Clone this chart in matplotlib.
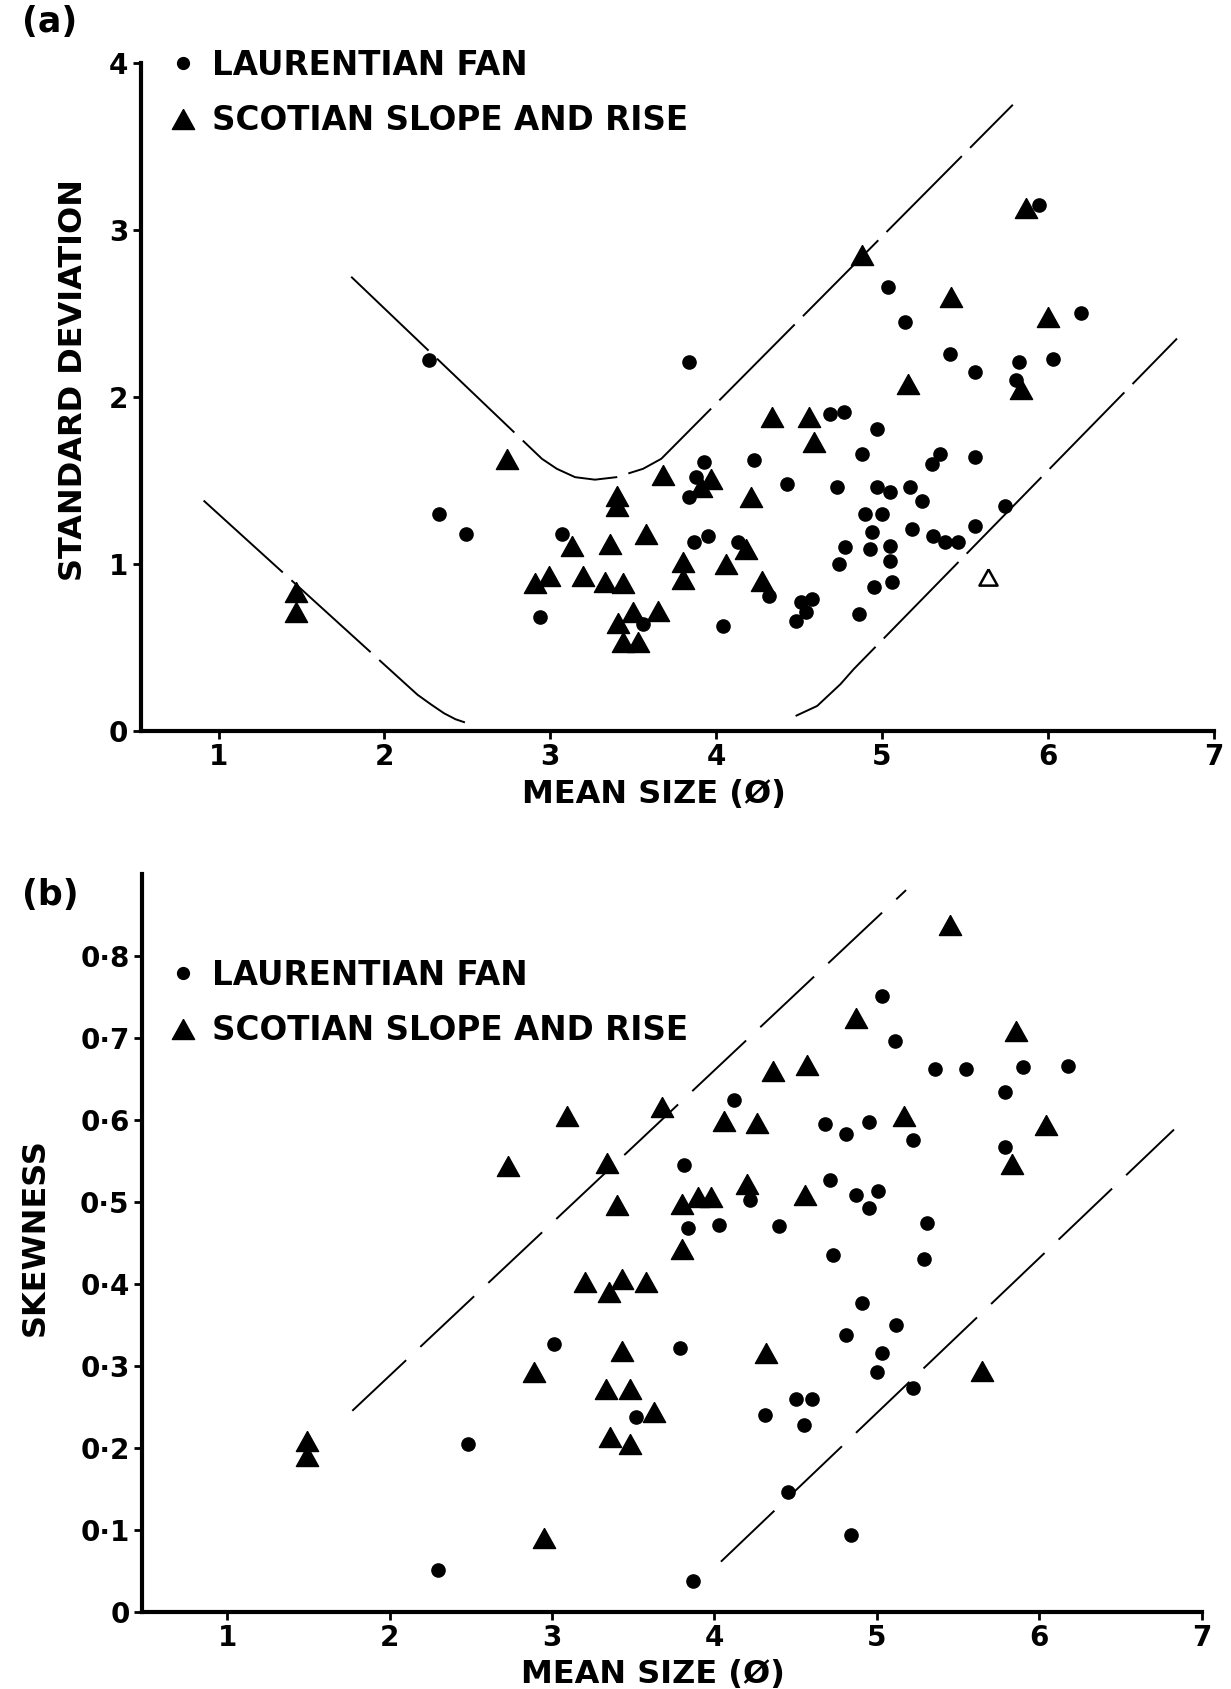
import numpy as np
import matplotlib
matplotlib.use("Agg")
import matplotlib.pyplot as plt
from matplotlib.lines import Line2D

# ==============================
# DATA
# ==============================
# (a) mean size vs standard deviation
a_lf_x = [2.27, 2.33, 2.49, 2.94, 3.07, 3.56, 3.84, 3.93, 3.88, 3.84, 3.87, 3.95,
          4.04, 4.13, 4.23, 4.32, 4.43, 4.48, 4.51, 4.54, 4.58, 4.69, 4.77, 4.73,
          4.74, 4.78, 4.86, 4.88, 4.90, 4.93, 4.94, 4.95, 4.97, 4.97, 5.00, 5.04,
          5.05, 5.05, 5.05, 5.06, 5.14, 5.17, 5.18, 5.24, 5.31, 5.30, 5.35, 5.38,
          5.41, 5.46, 5.56, 5.56, 5.56, 5.74, 5.81, 5.83, 5.95, 6.03, 6.20]
a_lf_y = [2.22, 1.30, 1.18, 0.68, 1.18, 0.64, 2.21, 1.61, 1.52, 1.40, 1.13, 1.17,
          0.63, 1.13, 1.62, 0.81, 1.48, 0.66, 0.77, 0.71, 0.79, 1.90, 1.91, 1.46,
          1.00, 1.10, 0.70, 1.66, 1.30, 1.09, 1.19, 0.86, 1.81, 1.46, 1.30, 2.66,
          1.43, 1.11, 1.02, 0.89, 2.45, 1.46, 1.21, 1.38, 1.17, 1.60, 1.66, 1.13,
          2.26, 1.13, 1.64, 2.15, 1.23, 1.35, 2.10, 2.21, 3.15, 2.23, 2.50]

a_ss_x = [1.47, 1.47, 2.74, 2.91, 2.99, 3.13, 3.20, 3.33, 3.44, 3.36, 3.40, 3.40,
          3.58, 3.68, 3.41, 3.50, 3.65, 3.44, 3.53, 3.80, 3.80, 3.97, 3.91, 4.06,
          4.18, 4.21, 4.28, 4.34, 4.56, 4.59, 4.88, 5.16, 5.42, 5.84, 5.87, 6.00]
a_ss_y = [0.83, 0.71, 1.63, 0.885, 0.93, 1.11, 0.93, 0.895, 0.885, 1.12, 1.41, 1.35,
          1.18, 1.53, 0.645, 0.71, 0.72, 0.535, 0.535, 1.01, 0.91, 1.51, 1.46, 1.00,
          1.09, 1.40, 0.90, 1.88, 1.88, 1.73, 2.85, 2.08, 2.60, 2.05, 3.13, 2.48]

a_open_x = [5.64]
a_open_y = [0.92]

# (a) hand-drawn envelopes
a_upper_env_x = [1.80, 2.95, 3.04, 3.15, 3.27, 3.40, 3.56, 3.67, 5.79]
a_upper_env_y = [2.72, 1.63, 1.57, 1.52, 1.505, 1.52, 1.57, 1.63, 3.75]
a_lower_left_x = [0.91, 2.13, 2.20, 2.28, 2.36, 2.43, 2.49]
a_lower_left_y = [1.38, 0.28, 0.217, 0.16, 0.106, 0.07, 0.05]
a_lower_right_x = [4.48, 4.61, 4.75, 4.83, 6.78]
a_lower_right_y = [0.09, 0.15, 0.28, 0.37, 2.35]

# (b) mean size vs skewness
b_lf_x = [2.30, 2.48, 3.01, 3.52, 3.79, 3.81, 3.84, 3.87, 4.03, 4.12, 4.22, 4.31,
          4.40, 4.45, 4.50, 4.55, 4.60, 4.68, 4.71, 4.73, 4.81, 4.81, 4.84, 4.87,
          4.91, 4.95, 4.95, 5.00, 5.01, 5.03, 5.03, 5.11, 5.12, 5.22, 5.22, 5.29,
          5.31, 5.36, 5.55, 5.79, 5.79, 5.90, 6.18]
b_lf_y = [0.051, 0.204, 0.327, 0.237, 0.321, 0.545, 0.468, 0.037, 0.472, 0.624, 0.502, 0.240,
          0.470, 0.146, 0.259, 0.228, 0.260, 0.595, 0.526, 0.435, 0.582, 0.337, 0.093, 0.508,
          0.376, 0.597, 0.492, 0.292, 0.513, 0.751, 0.315, 0.696, 0.350, 0.575, 0.273, 0.430,
          0.474, 0.662, 0.662, 0.634, 0.567, 0.664, 0.665]

b_ss_x = [1.49, 1.49, 2.73, 2.89, 2.95, 3.09, 3.20, 3.35, 3.43, 3.58, 3.34, 3.40,
          3.43, 3.33, 3.48, 3.63, 3.36, 3.48, 3.68, 3.80, 3.80, 3.90, 3.98, 4.06,
          4.20, 4.26, 4.32, 4.36, 4.56, 4.57, 4.87, 5.17, 5.45, 5.65, 5.83, 5.86, 6.04]
b_ss_y = [0.208, 0.190, 0.543, 0.292, 0.090, 0.604, 0.402, 0.390, 0.406, 0.402, 0.547, 0.496,
          0.318, 0.272, 0.271, 0.243, 0.213, 0.204, 0.616, 0.497, 0.442, 0.506, 0.506, 0.598,
          0.522, 0.596, 0.316, 0.659, 0.508, 0.667, 0.724, 0.605, 0.838, 0.294, 0.546, 0.708, 0.594]

# (b) envelope lines
b_upper_env_x = [1.77, 5.18]
b_upper_env_y = [0.245, 0.88]
b_lower_env_x = [4.04, 6.83]
b_lower_env_y = [0.061, 0.588]

x_ticks = [1, 2, 3, 4, 5, 6, 7]
a_y_ticks = [0, 1, 2, 3, 4]
b_y_ticks = [0, 0.1, 0.2, 0.3, 0.4, 0.5, 0.6, 0.7, 0.8]
b_y_labels = ["0", "0·1", "0·2", "0·3", "0·4", "0·5", "0·6", "0·7", "0·8"]

legend_labels = ["LAURENTIAN FAN", "SCOTIAN SLOPE AND RISE"]

# ==============================
# STYLE
# ==============================
plt.rcParams['font.family'] = ['DejaVu Sans']
plt.rcParams['font.weight'] = 'bold'

TRI = [(0, 0.9), (-1, -0.9), (1, -0.9), (0, 0.9)]
DOT_MS = 9.5
TRI_MS = 16
SPINE_W = 3.0
LEG_FS = 23.5

fig = plt.figure(figsize=(12.31, 16.89), dpi=100)
W, H = 1231.0, 1689.0

# axes boxes in pixels: left, right, bottom(y=0 row), top
ax_a = fig.add_axes([140.6 / W, 1 - 731 / H, (1213.5 - 140.6) / W, (731 - 63) / H])
ax_b = fig.add_axes([142 / W, 1 - 1611.7 / H, (1201.6 - 142) / W, (1611.7 - 873.7) / H])


def style_axes(ax):
    for s in ["top", "right"]:
        ax.spines[s].set_visible(False)
    for s in ["left", "bottom"]:
        ax.spines[s].set_linewidth(SPINE_W)
    ax.tick_params(direction="out", length=6, width=2, labelsize=20, pad=3)
    ax.set_xticks(x_ticks)
    ax.set_xticklabels([str(t) for t in x_ticks])
    for lab in ax.get_xticklabels() + ax.get_yticklabels():
        lab.set_fontweight("bold")


def add_legend(ax, anchor):
    handles = [
        Line2D([], [], ls="none", marker="o", ms=DOT_MS - 1, color="black"),
        Line2D([], [], ls="none", marker=TRI, ms=TRI_MS, color="black"),
    ]
    ax.legend(handles, legend_labels, loc="upper left", bbox_to_anchor=anchor,
              frameon=False, handlelength=1.0, handletextpad=0.39,
              labelspacing=0.7, borderpad=0, borderaxespad=0,
              prop={"weight": "bold", "size": LEG_FS})


# ---------- (a) ----------
dash_a = (0, (55, 6))
ax_a.plot(a_upper_env_x, a_upper_env_y, color="black", lw=1.4, ls=dash_a)
ax_a.plot(a_lower_left_x, a_lower_left_y, color="black", lw=1.4, ls=dash_a)
ax_a.plot(a_lower_right_x, a_lower_right_y, color="black", lw=1.4, ls=dash_a)

ax_a.plot(a_lf_x, a_lf_y, ls="none", marker="o", ms=DOT_MS, color="black")
ax_a.plot(a_ss_x, a_ss_y, ls="none", marker=TRI, ms=TRI_MS, color="black")
ax_a.plot(a_open_x, a_open_y, ls="none", marker=TRI, ms=TRI_MS - 3,
          markerfacecolor="white", markeredgecolor="black", markeredgewidth=1.8)

ax_a.set_xlim(0.53, 7.0)
ax_a.set_ylim(0, 4.0)
style_axes(ax_a)
ax_a.set_yticks(a_y_ticks)
ax_a.set_yticklabels([str(t) for t in a_y_ticks], fontweight="bold")
ax_a.set_xlabel("MEAN SIZE (Ø)", fontsize=23, fontweight="bold")
ax_a.set_ylabel("STANDARD DEVIATION", fontsize=23, fontweight="bold")
ax_a.xaxis.set_label_coords(0.478, -0.072)
ax_a.yaxis.set_label_coords(-0.048, 0.526)
add_legend(ax_a, (0.0244, 1.0216))
fig.text(22 / W, 1 - 5 / H, "(a)", fontsize=25, fontweight="bold", ha="left", va="top")

# ---------- (b) ----------
dash_b = (0, (38, 10))
ax_b.plot(b_upper_env_x, b_upper_env_y, color="black", lw=1.4, ls=dash_b)
ax_b.plot(b_lower_env_x, b_lower_env_y, color="black", lw=1.4, ls=dash_b)

ax_b.plot(b_lf_x, b_lf_y, ls="none", marker="o", ms=DOT_MS, color="black")
ax_b.plot(b_ss_x, b_ss_y, ls="none", marker=TRI, ms=TRI_MS, color="black")

ax_b.set_xlim(0.475, 7.0)
ax_b.set_ylim(0, 0.9)
style_axes(ax_b)
ax_b.set_yticks(b_y_ticks)
ax_b.set_yticklabels(b_y_labels, fontweight="bold")
ax_b.set_xlabel("MEAN SIZE (Ø)", fontsize=23, fontweight="bold")
ax_b.set_ylabel("SKEWNESS", fontsize=23, fontweight="bold")
ax_b.xaxis.set_label_coords(0.482, -0.064)
ax_b.yaxis.set_label_coords(-0.086, 0.507)
add_legend(ax_b, (0.0234, 0.885))
fig.text(22 / W, 1 - 878 / H, "(b)", fontsize=25, fontweight="bold", ha="left", va="top")

fig.savefig("out.png", dpi=100)
